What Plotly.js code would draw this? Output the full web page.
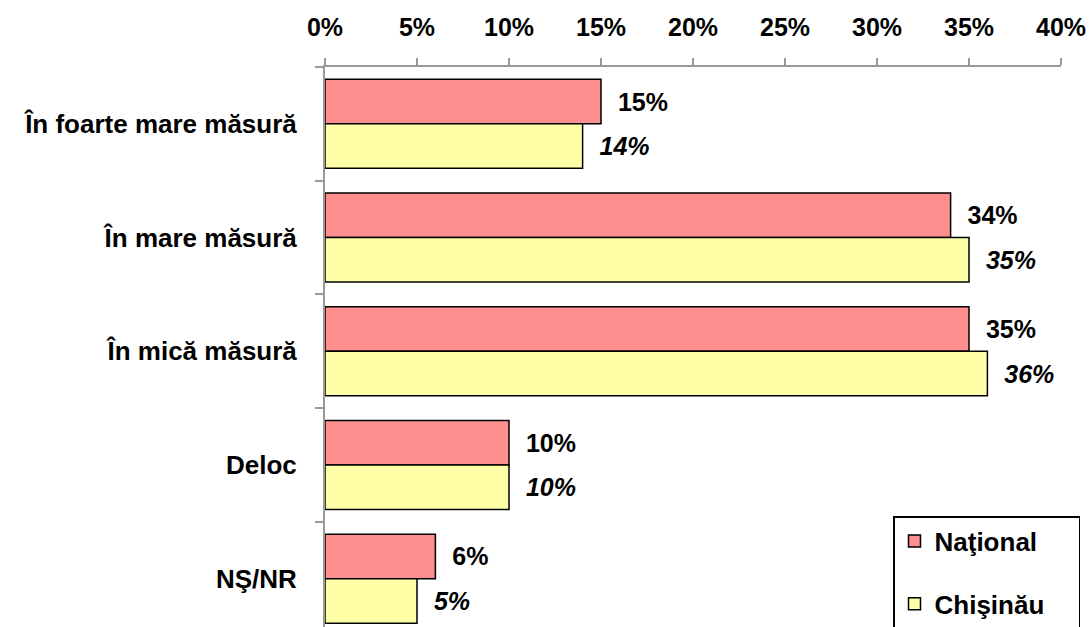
<!DOCTYPE html>
<html>
<head>
<meta charset="utf-8">
<script src="https://cdn.plot.ly/plotly-3.0.1.min.js"></script>
<style>html,body{margin:0;padding:0;background:#fff;}#chart{width:1089px;height:627px;}</style>
</head>
<body>
<div id="chart"></div>
<script>
const categories = ["În foarte mare măsură", "În mare măsură", "În mică măsură", "Deloc", "NŞ/NR"];
const nationalValues = [15, 34, 35, 10, 6];
const chisinauValues = [14, 35, 36, 10, 5];
const seriesNames = ["Naţional", "Chişinău"];
const xTickValues = [0, 5, 10, 15, 20, 25, 30, 35, 40];
const xTickLabels = ["0%", "5%", "10%", "15%", "20%", "25%", "30%", "35%", "40%"];

const FONT = "Liberation Sans, Arial, sans-serif";
const pad = "\u00a0\u00a0";
const legendPad = "\u00a0\u00a0\u00a0\u00a0";

const traces = [
  {
    type: "bar", orientation: "h", name: seriesNames[0] + legendPad,
    y: categories, x: nationalValues,
    text: nationalValues.map(v => pad + v + "%"),
    textposition: "outside", cliponaxis: false, constraintext: "none",
    textfont: {family: FONT, size: 25, color: "#000", weight: "bold"},
    marker: {color: "#FF8F8F", line: {color: "#000", width: 1.5}},
    legendgroup: "a", hoverinfo: "skip"
  },
  {
    type: "bar", orientation: "h", name: seriesNames[1] + legendPad,
    y: categories, x: chisinauValues,
    text: chisinauValues.map(v => pad + v + "%"),
    textposition: "outside", cliponaxis: false, constraintext: "none",
    textfont: {family: FONT, size: 25, color: "#000", weight: "bold", style: "italic"},
    marker: {color: "#FFFFA8", line: {color: "#000", width: 1.5}},
    legendgroup: "b", hoverinfo: "skip"
  }
];

const layout = {
  width: 1089, height: 627,
  margin: {l: 325, r: 28, t: 67, b: 0, pad: 0, autoexpand: false},
  paper_bgcolor: "#fff", plot_bgcolor: "#fff",
  font: {family: FONT, color: "#000"},
  barmode: "group", bargap: 0.217, bargroupgap: 0,
  showlegend: true,
  legend: {
    x: (893 - 325) / (1089 - 325 - 28), xanchor: "left",
    y: (627 - 516) / 560, yanchor: "top",
    bgcolor: "#fff", bordercolor: "#000", borderwidth: 1.5,
    font: {family: FONT, size: 26, color: "#000", weight: "bold"},
    traceorder: "grouped", tracegroupgap: 26
  },
  xaxis: {
    side: "top", range: [0, 40], fixedrange: true, automargin: false,
    tickvals: xTickValues, ticktext: xTickLabels,
    ticks: "outside", ticklen: 7, tickwidth: 2, tickcolor: "#999",
    showline: true, linecolor: "#999", linewidth: 2,
    showgrid: false, zeroline: false,
    tickfont: {family: FONT, size: 25, color: "#000", weight: "bold"},
    ticklabelstandoff: 12
  },
  yaxis: {
    type: "category", range: [4.425, -0.5], fixedrange: true, automargin: false,
    tickson: "boundaries",
    ticks: "outside", ticklen: 8, tickwidth: 2, tickcolor: "#999",
    showline: true, linecolor: "#999", linewidth: 2,
    showgrid: false, zeroline: false,
    tickfont: {family: FONT, size: 26, color: "#000", weight: "bold"},
    ticklabelstandoff: 21
  }
};

Plotly.newPlot("chart", traces, layout, {staticPlot: true, displayModeBar: false});
</script>
</body>
</html>
